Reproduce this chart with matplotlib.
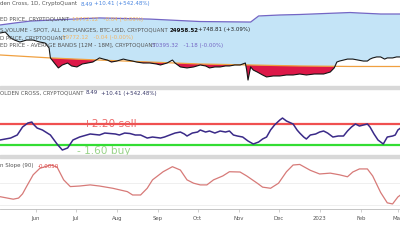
import matplotlib
matplotlib.use("Agg")
import matplotlib.pyplot as plt
from matplotlib.patches import Rectangle
import numpy as np
import pandas as pd

plt.rcParams["font.family"] = ["DejaVu Sans"]

START = pd.Timestamp("2022-05-05")
END = START + pd.Timedelta(days=301.6)

# --- top panel: price, realized price, upper band (days since START) ---
price_day = [0, 4, 8, 11, 15, 20, 25, 30, 34, 37, 38, 41, 44, 47, 51, 54, 58, 62, 66, 70,
             75, 78, 81, 84, 88, 93, 96, 100, 103, 108, 113, 118, 121, 126, 130, 132, 136,
             141, 146, 151, 155, 158, 162, 166, 170, 173, 177, 181, 185, 186, 187, 189, 191,
             194, 198, 201, 206, 211, 216, 221, 226, 231, 237, 244, 249, 252, 254, 256, 259,
             262, 266, 270, 274, 277, 279, 281, 284, 287, 290, 292, 296, 299, 302]
price_val = [40200, 40800, 37200, 35900, 34700, 35900, 35900, 34700, 34100, 31100, 25000,
             21900, 18900, 20700, 21900, 20100, 19500, 21300, 21900, 22500, 25000, 24300,
             23700, 22500, 23100, 24300, 23700, 23100, 22500, 21900, 21900, 21300, 20700,
             21900, 23700, 21900, 19500, 18900, 19500, 20700, 20100, 18900, 19500, 19500,
             20100, 20100, 20700, 20700, 21900, 17600, 11500, 19500, 17600, 16400, 14600,
             13400, 14000, 14000, 14600, 14600, 15200, 14600, 15200, 15200, 16400, 18900,
             22500, 23100, 23700, 24300, 24300, 23700, 23100, 23100, 24300, 25000, 25600,
             25600, 24300, 25000, 25000, 25600, 25600]

realized_day = [0, 19, 38, 57, 75, 94, 113, 132, 151, 170, 189, 207, 226, 264, 302]
realized_val = [26800, 25900, 25000, 24300, 23700, 23100, 22500, 21900, 21300, 21000,
                20700, 20400, 20100, 19800, 19772]

band_day = [0, 11, 23, 38, 75, 113, 151, 189, 195, 211, 226, 264, 271, 287, 302]
band_val = [45100, 46300, 47500, 48100, 49400, 48700, 47200, 46900, 50600, 51200, 51500,
            52700, 52400, 51800, 51800]

# --- middle panel: golden cross oscillator ---
osc_day = [0, 8, 13, 17, 21, 24, 25, 28, 32, 38, 43, 47, 51, 55, 60, 68, 75, 79, 83, 87,
           90, 94, 98, 102, 106, 111, 115, 121, 124, 128, 132, 136, 139, 141, 145, 149,
           151, 155, 158, 162, 166, 170, 173, 176, 179, 183, 187, 191, 195, 198, 201, 204,
           207, 211, 213, 216, 221, 224, 226, 229, 231, 234, 238, 241, 244, 247, 251, 255,
           259, 262, 265, 268, 271, 274, 277, 279, 282, 285, 289, 292, 296, 298, 300, 302]
osc_val = [-0.75, -0.38, 0.19, 1.69, 2.44, 2.63, 2.26, 1.50, 1.13, 0.19, -1.50, -2.63,
           -2.25, -0.75, -0.19, 0.38, 0.19, 0.56, 0.47, 0.38, 0.19, 0.56, 0.47, 0.19, 0.19,
           -0.38, -0.19, -0.38, -0.19, 0.19, 0.56, 0.75, 0.38, 0.00, 0.56, 0.75, 1.13, 0.75,
           0.94, 0.56, 0.94, 0.75, 0.94, 0.19, 0.00, -0.19, -0.94, -1.50, -1.13, -0.56,
           -0.19, 1.13, 2.07, 3.01, 3.38, 2.82, 2.26, 1.13, 0.56, -0.19, -0.56, 0.19, 0.38,
           0.75, 0.94, 0.56, -0.19, 0.00, 0.00, 0.94, 1.69, 2.26, 1.88, 2.07, 2.26, 1.69,
           0.38, -0.75, -1.50, -0.19, 0.00, 0.19, 1.13, 1.50]
SELL = 2.20
BUY = -1.60

# --- bottom panel: slope (90) ---
slope_day = [0, 10, 14, 17, 20, 25, 30, 38, 43, 48, 53, 60, 68, 75, 85, 96, 100, 106, 111,
             115, 123, 130, 136, 141, 146, 151, 156, 161, 168, 173, 181, 186, 194, 198, 204,
             210, 216, 221, 226, 234, 241, 249, 256, 262, 266, 271, 277, 281, 287, 292, 296,
             300, 302]
slope_val = [-0.0049, -0.0058, -0.0054, -0.0039, -0.0013, 0.0029, 0.0052, 0.0064, 0.0057,
             0.0011, -0.0013, -0.0011, -0.0007, -0.0011, -0.0019, -0.0031, -0.0043, -0.0043,
             -0.0019, 0.0011, 0.0040, 0.0058, 0.0046, 0.0011, -0.0001, -0.0007, -0.0007,
             0.0011, 0.0025, 0.0040, 0.0039, 0.0025, -0.0001, -0.0015, -0.0019, -0.0001,
             0.0040, 0.0064, 0.0066, 0.0045, 0.0032, 0.0035, 0.0029, 0.0022, 0.0039, 0.0050,
             0.0050, 0.0025, -0.0034, -0.0071, -0.0075, -0.0050, -0.0043]

tick_dates = ["2022-06-01", "2022-07-01", "2022-08-01", "2022-09-01", "2022-10-01",
              "2022-11-01", "2022-12-01", "2023-01-01", "2023-02-01", "2023-03-01"]
tick_labels = ["Jun", "Jul", "Aug", "Sep", "Oct", "Nov", "Dec", "2023", "Feb", "Mar"]


def to_dates(days):
    return START + pd.to_timedelta(days, unit="D")


W, H = 400, 240
fig = plt.figure(figsize=(4, 2.4), dpi=100, facecolor="white")


def panel(y0, y1):
    ax = fig.add_axes([0, 1 - y1 / H, 1, (y1 - y0) / H])
    ax.set_facecolor("none")
    for s in ax.spines.values():
        s.set_visible(False)
    ax.set_xlim(START, END)
    ax.set_yticks([])
    ax.set_xticks([])
    return ax


ax1 = panel(0, 86)
ax2 = panel(89, 155)
ax3 = panel(158, 209)

# top panel
pd_days = np.array(price_day, dtype=float)
pv = np.array(price_val, dtype=float)
real_at = np.interp(pd_days, realized_day, realized_val)
band_at = np.interp(pd_days, band_day, band_val)
px = to_dates(price_day)
ax1.fill_between(px, band_at, np.maximum(pv, real_at), color="#c4e4f7", lw=0)
ax1.fill_between(px, real_at, pv, where=pv < real_at, interpolate=True,
                 color="#dc1848", lw=0)
ax1.plot(to_dates(band_day), band_val, color="#7466c4", lw=0.9)
ax1.plot(to_dates(realized_day), realized_val, color="#f0a040", lw=0.9)
ax1.plot(px, pv, color="#151515", lw=0.8)
ax1.set_ylim(7878, 60338)

# middle panel
ax2.axhline(SELL, color="#f05050", lw=1.6)
ax2.axhline(BUY, color="#33dd33", lw=1.6)
ax2.plot(to_dates(osc_day), osc_val, color="#3a2a88", lw=1.1)
ax2.set_ylim(-3.57, 8.84)
ax2.text(pd.Timestamp("2022-07-27"), SELL - 0.45, f"+{SELL:.2f} sell", color="#e85a5a",
         fontsize=7.6, ha="center", va="baseline", alpha=0.9)
ax2.text(pd.Timestamp("2022-07-22"), BUY - 0.35, f"- {abs(BUY):.2f} buy", color="#9ad48a",
         fontsize=7.6, ha="center", va="top", clip_on=False)

# bottom panel
ax3.axhline(0, color="#ececec", lw=0.6)
ax3.axhline(-0.0079, color="#ececec", lw=0.6)
ax3.plot(to_dates(slope_day), slope_val, color="#d77a78", lw=0.9)
ax3.set_ylim(-0.0093, 0.0089)
ax3.spines["bottom"].set_visible(True)
ax3.spines["bottom"].set_color("#bbbbbb")
ax3.spines["bottom"].set_linewidth(0.6)
ax3.set_xticks(pd.to_datetime(tick_dates))
ax3.set_xticklabels(tick_labels)
ax3.tick_params(axis="x", length=2, width=0.5, color="#bbbbbb", labelsize=3.9,
                labelcolor="#555555", pad=3)

# separators
for y0 in (86, 155):
    fig.patches.append(Rectangle((0, 1 - (y0 + 3) / H), 1, 3 / H, transform=fig.transFigure,
                                 color="#d8d8d8", zorder=5))


def label(x, y, s, color="#555555", weight="normal", size=3.95):
    fig.text(x / W, 1 - y / H, s, color=color, fontsize=size, fontweight=weight,
             ha="left", va="center", zorder=6)


label(0, 4, "den Cross, 1D, CryptoQuant")
label(81, 4, "8.49", "#4a86e0")
label(94, 4, "+10.41 (+542.48%)", "#4a86e0")
label(0, 19, "ED PRICE, CRYPTOQUANT")
label(72, 19, "19772.12   -0.04 (-0.00%)", "#f5b463")
label(0, 30, "S VOLUME - SPOT, ALL EXCHANGES, BTC-USD, CRYPTOQUANT")
label(170, 30, "24958.52", "#111111", "bold")
label(198, 30, "+748.81 (+3.09%)", "#222222")
label(0, 38, "D PRICE, CRYPTOQUANT")
label(62, 38, "19772.12   -0.04 (-0.00%)", "#f5b463")
label(0, 45, "ED PRICE - AVERAGE BANDS [12M - 18M], CRYPTOQUANT")
label(152, 45, "50395.32   -1.18 (-0.00%)", "#7466c4")
label(0, 93, "OLDEN CROSS, CRYPTOQUANT")
label(86, 93, "8.49", "#3a3a6a")
label(101, 93, "+10.41 (+542.48%)", "#3a3a6a")
label(0, 166, "n Slope (90)")
label(38, 166, "-0.0050", "#e04848")

fig.savefig("out.png", dpi=100, facecolor="white")
